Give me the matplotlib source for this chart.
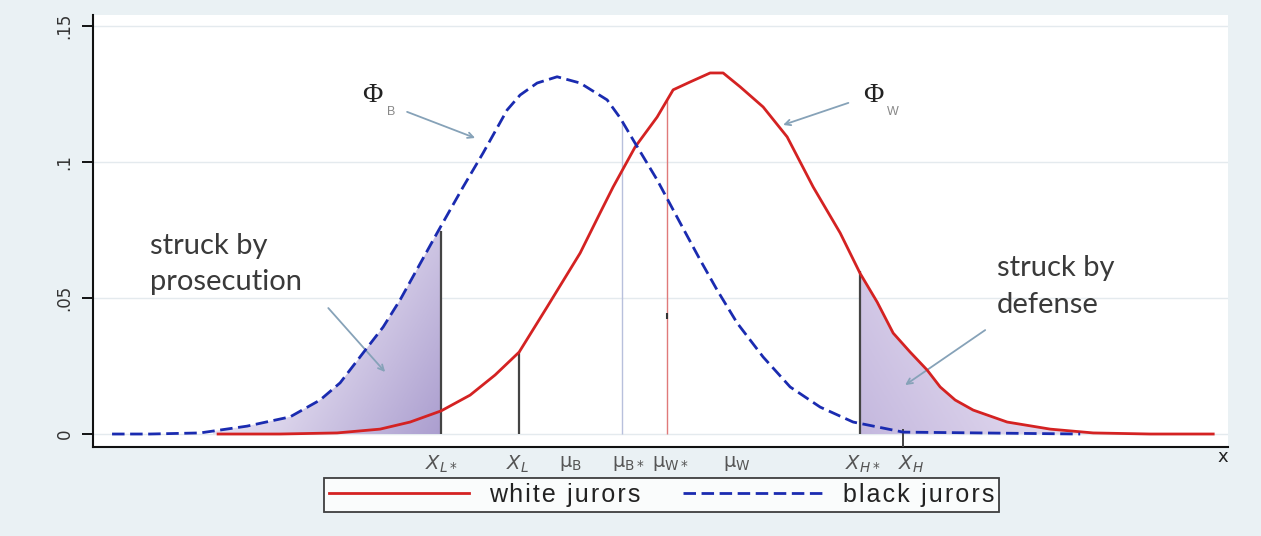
import numpy as np
import matplotlib
matplotlib.use("Agg")
import matplotlib.pyplot as plt
from matplotlib.colors import LinearSegmentedColormap
from matplotlib.patches import Polygon

# ---- data ----
black_x = [0.475, 1.425, 2.675, 3.85, 4.925, 5.675, 6.175, 6.75, 7.25, 7.675, 8.6, 9.25,
           9.75, 10.35, 10.675, 11.1, 11.6, 12.175, 12.85, 13.175, 13.5, 14.1, 14.675,
           15.175, 15.6, 16.1, 16.75, 17.425, 18.175, 19.0, 20.25, 22.175, 24.675]
black_y = [0.0, 0.0, 0.0004, 0.0029, 0.0063, 0.0125, 0.0188, 0.0298, 0.0393, 0.0493,
           0.0739, 0.0908, 0.1033, 0.1191, 0.1246, 0.1290, 0.1313, 0.1290, 0.1228, 0.1162,
           0.1081, 0.0934, 0.0776, 0.0640, 0.0529, 0.0408, 0.0283, 0.0173, 0.0099, 0.0044,
           0.0007, 0.0004, 0.0]

white_x = [3.125, 4.675, 6.1, 7.175, 7.925, 8.7, 9.425, 10.05, 10.65, 11.35, 12.175, 12.675,
           13.0, 13.55, 14.1, 14.5, 14.925, 15.425, 15.75, 16.175, 16.75, 17.35, 18.0,
           18.675, 19.175, 19.6, 20.0, 20.425, 20.85, 21.175, 21.55, 22.0, 22.85, 23.925,
           25.0, 26.425, 28.0]
white_y = [0.0, 0.0, 0.0004, 0.0018, 0.0044, 0.0085, 0.0143, 0.0217, 0.0301, 0.0467, 0.0665,
           0.0813, 0.0908, 0.1055, 0.1165, 0.1265, 0.1294, 0.1327, 0.1327, 0.1276, 0.1202,
           0.1092, 0.0908, 0.0739, 0.0590, 0.0485, 0.0371, 0.0301, 0.0235, 0.0173, 0.0125,
           0.0088, 0.0044, 0.0018, 0.0004, 0.0, 0.0]

x_L_star, x_L, mu_B_star, mu_W_star, x_H_star, x_H = 8.70, 10.65, 13.23, 14.35, 19.18, 20.25

tick_pos = [8.70, 10.60, 11.93, 13.38, 14.43, 16.10, 19.23, 20.45]
tick_labels = [r'$X_{L*}$', r'$X_{L}$', r'$\mathrm{\mu}_{\mathrm{B}}$', r'$\mathrm{\mu}_{\mathrm{B}*}$',
               r'$\mathrm{\mu}_{\mathrm{W}*}$', r'$\mathrm{\mu}_{\mathrm{W}}$',
               r'$X_{H*}$', r'$X_{H}$']
y_ticks = [0, 0.05, 0.1, 0.15]
y_tick_labels = ['0', '.05', '.1', '.15']
series_names = ['white jurors', 'black jurors']

RED = '#d42222'
BLUE = '#1a2bb0'


def spaced(s):
    return '\u200a'.join(s)


fig = plt.figure(figsize=(12.61, 5.36), dpi=100, facecolor='#eaf1f4')
ax = fig.add_axes([0.0738, 0.166, 0.9002, 0.806])
ax.set_facecolor('white')

XMIN, XMAX = 0, 28.375
YMIN, YMAX = -0.00478, 0.154

for yt in y_ticks:
    ax.axhline(yt, color='#e4eaee', lw=1, zorder=0)

# ---- gradient shaded areas ----
bx = np.array(black_x); by = np.array(black_y)
wx = np.array(white_x); wy = np.array(white_y)

yl = np.interp(x_L_star, bx, by)
m = bx < x_L_star
poly_l = np.vstack([np.column_stack([bx[m], by[m]]), [[x_L_star, yl], [x_L_star, 0], [bx[m][0], 0]]])
patch_l = Polygon(poly_l, closed=True, facecolor='none', edgecolor='none')
ax.add_patch(patch_l)
gx, gy = np.meshgrid(np.linspace(0, 1, 200), np.linspace(0, 1, 200))
zl = 0.65 * gx + 0.35 * (1 - gy)
cmap_l = LinearSegmentedColormap.from_list('l', ['#f3f0f8', '#ddd6ec', '#ab9ecf'])
im = ax.imshow(zl, extent=[3.0, x_L_star, 0, 0.076], origin='lower', aspect='auto',
               cmap=cmap_l, zorder=1, interpolation='bilinear')
im.set_clip_path(patch_l)

yr = np.interp(x_H_star, wx, wy)
m2 = (wx > x_H_star) & (wx <= 25.0)
poly_r = np.vstack([[[x_H_star, 0], [x_H_star, yr]], np.column_stack([wx[m2], wy[m2]]), [[25.0, 0]]])
patch_r = Polygon(poly_r, closed=True, facecolor='none', edgecolor='none')
ax.add_patch(patch_r)
zr = 0.7 * (1 - gx) + 0.3 * (1 - gy)
cmap_r = LinearSegmentedColormap.from_list('r', ['#f4f1f8', '#ddd4ec', '#c4b8de'])
im2 = ax.imshow(zr, extent=[x_H_star, 25.0, 0, 0.062], origin='lower', aspect='auto',
                cmap=cmap_r, zorder=1, interpolation='bilinear')
im2.set_clip_path(patch_r)

# ---- vertical lines ----
ax.vlines(x_L_star, 0, np.interp(x_L_star, bx, by) - 0.002, color='#444444', lw=1.6, zorder=3)
ax.vlines(x_L, 0, np.interp(x_L, wx, wy), color='#444444', lw=1.6, zorder=3)
ax.vlines(x_H_star, 0, np.interp(x_H_star, wx, wy) + 0.001, color='#444444', lw=1.6, zorder=3)
ax.vlines(x_H, YMIN, np.interp(x_H, bx, by) + 0.001, color='#444444', lw=1.4, zorder=3)
ax.vlines(mu_B_star, 0, np.interp(mu_B_star, bx, by), color='#b8c0dc', lw=1.0, zorder=2)
ax.vlines(mu_W_star, 0, np.interp(mu_W_star, wx, wy), color='#e07a7a', lw=1.0, zorder=2)
ax.plot([mu_W_star], [0.0434], marker='|', ms=5, mew=1.5, color='#333333', zorder=3)

# ---- curves ----
ax.plot(wx, wy, color=RED, lw=2.0, zorder=4, label=spaced(series_names[0]))
ax.plot(bx, by, color=BLUE, lw=2.0, ls=(0, (4.5, 2)), zorder=5, label=spaced(series_names[1]))

# ---- annotations ----
arrow_kw = dict(arrowstyle='->', color='#86a2b8', lw=1.3, shrinkA=0, shrinkB=0)
ax.text(6.98, 0.1245, 'Φ', fontsize=20, family='Liberation Serif', color='#222222', ha='center', va='center')
ax.text(7.35, 0.1185, 'B', fontsize=9, family='Liberation Sans', color='#888888', ha='left', va='center')
ax.annotate('', xy=(9.55, 0.1088), xytext=(7.85, 0.1184), arrowprops=arrow_kw)

ax.text(19.5, 0.1245, 'Φ', fontsize=20, family='Liberation Serif', color='#222222', ha='center', va='center')
ax.text(19.85, 0.1185, 'W', fontsize=9, family='Liberation Sans', color='#888888', ha='left', va='center')
ax.annotate('', xy=(17.25, 0.1136), xytext=(18.88, 0.1217), arrowprops=arrow_kw)

ax.text(1.43, 0.0625, 'struck by\nprosecution', fontsize=21, family='Lato', color='#3a3a3a',
        ha='left', va='center', linespacing=1.5)
ax.annotate('', xy=(7.3, 0.0228), xytext=(5.88, 0.0463), arrowprops=arrow_kw)

ax.text(22.6, 0.0542, 'struck by\ndefense', fontsize=21, family='Lato', color='#3a3a3a',
        ha='left', va='center', linespacing=1.5)
ax.annotate('', xy=(20.3, 0.018), xytext=(22.3, 0.0382), arrowprops=arrow_kw)

# ---- axes ----
ax.set_xlim(XMIN, XMAX)
ax.set_ylim(YMIN, YMAX)
ax.set_yticks(y_ticks)
ax.set_yticklabels(y_tick_labels, rotation=90, va='center', fontsize=12, color='#333333')
ax.tick_params(axis='y', length=8, width=1.3, pad=6)
ax.set_xticks(tick_pos)
ax.set_xticklabels(tick_labels, fontsize=14, color='#555555')
ax.tick_params(axis='x', length=0, pad=5)
for s in ['top', 'right']:
    ax.spines[s].set_visible(False)
for s in ['left', 'bottom']:
    ax.spines[s].set_linewidth(1.5)
    ax.spines[s].set_color('#111111')
ax.annotate('x', xy=(1.0, 0), xycoords='axes fraction', xytext=(-4, -1), textcoords='offset points',
            ha='center', va='top', fontsize=13, color='#222222')

leg = fig.legend(loc='upper center', bbox_to_anchor=(0.5246, 0.108), ncol=2, frameon=True,
                 fancybox=False, edgecolor='#111111', handlelength=5.6, columnspacing=1.7,
                 handletextpad=0.8, borderpad=0.2, borderaxespad=0,
                 prop={'family': ['Liberation Sans', 'DejaVu Sans'], 'size': 18})
leg.get_frame().set_linewidth(1.3)
for t in leg.get_texts():
    t.set_color('#222222')

fig.savefig('out.png', dpi=100, facecolor=fig.get_facecolor())
